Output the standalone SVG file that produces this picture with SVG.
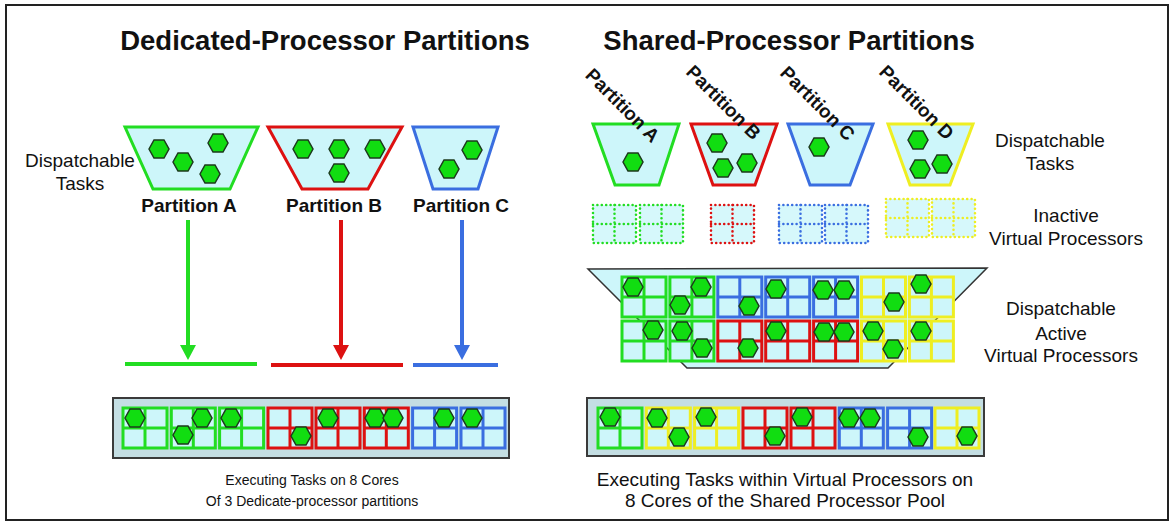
<svg xmlns="http://www.w3.org/2000/svg" xmlns:xlink="http://www.w3.org/1999/xlink" width="1175" height="525" viewBox="0 0 1175 525">
  <style>
    text { font-family: "Liberation Sans", Arial, sans-serif; fill: #111; }
    .title { font-size: 27.5px; font-weight: bold; }
    .lbl { font-size: 19px; font-weight: bold; }
    .txt { font-size: 19px; }
    .capL { font-size: 14px; }
    .capR { font-size: 19px; }
    .bin { fill: #cdf6fa; stroke-width: 3; }
    .g { stroke: #22dd22; }
    .r { stroke: #dd1111; }
    .b { stroke: #3a6ee0; }
    .y { stroke: #eeee22; }
    .core { stroke-width: 3; }
    .dot { stroke-width: 2.6; stroke-dasharray: 0 4.4; stroke-linecap: round; }
    .tray { fill: #c4dee3; stroke: #3a3a3a; stroke-width: 2; }
    .task { fill: #11dd11; stroke: #1c3a1c; stroke-width: 1.5; }
    .flow { stroke-width: 4; fill: none; }
  </style>
  <defs>
    <path id="hex" d="M-10,0 L-5,-9 L5,-9 L10,0 L5,9 L-5,9 Z"/>
    <g id="core">
      <rect width="44" height="40" fill="#cdf6fa"/>
      <path d="M22,0V40M0,20H44" fill="none"/>
    </g>
    <g id="vcore">
      <rect width="43" height="38" fill="#d6f8fb"/>
      <path d="M21.5,0V38M0,19H43" fill="none"/>
    </g>
    <marker id="ahG" viewBox="0 0 16 16" markerWidth="16" markerHeight="16" refX="0" refY="8" orient="auto" markerUnits="userSpaceOnUse">
      <path d="M0,0 L15,8 L0,16 Z" fill="#22dd22"/>
    </marker>
    <marker id="ahR" viewBox="0 0 16 16" markerWidth="16" markerHeight="16" refX="0" refY="8" orient="auto" markerUnits="userSpaceOnUse">
      <path d="M0,0 L15,8 L0,16 Z" fill="#dd1111"/>
    </marker>
    <marker id="ahB" viewBox="0 0 16 16" markerWidth="16" markerHeight="16" refX="0" refY="8" orient="auto" markerUnits="userSpaceOnUse">
      <path d="M0,0 L15,8 L0,16 Z" fill="#3a6ee0"/>
    </marker>
  </defs>

  <!-- frame -->
  <rect x="6" y="5" width="1162" height="515" fill="#fff" stroke="#222" stroke-width="2"/>

  <!-- headings -->
  <text class="title" x="325" y="50" text-anchor="middle">Dedicated-Processor Partitions</text>
  <text class="title" x="789" y="50" text-anchor="middle">Shared-Processor Partitions</text>

  <!-- ===== dedicated side ===== -->
  <g id="ded-tasks-label">
    <text class="txt" x="80" y="167" text-anchor="middle">Dispatchable</text>
    <text class="txt" x="80" y="190" text-anchor="middle">Tasks</text>
  </g>

  <g id="ded-partition-a">
    <polygon class="bin g" points="125,127 258,127 230,189 153,189"/>
    <use href="#hex" class="task" x="159" y="149"/>
    <use href="#hex" class="task" x="183" y="162"/>
    <use href="#hex" class="task" x="218" y="143"/>
    <use href="#hex" class="task" x="210" y="174"/>
    <text class="lbl" x="189" y="212" text-anchor="middle">Partition A</text>
  </g>

  <g id="ded-partition-b">
    <polygon class="bin r" points="268,127 402,127 368,189 302,189"/>
    <use href="#hex" class="task" x="303" y="149"/>
    <use href="#hex" class="task" x="339" y="149"/>
    <use href="#hex" class="task" x="375" y="149"/>
    <use href="#hex" class="task" x="339" y="173"/>
    <text class="lbl" x="334" y="212" text-anchor="middle">Partition B</text>
  </g>

  <g id="ded-partition-c">
    <polygon class="bin b" points="413,127 498,127 478,189 433,189"/>
    <use href="#hex" class="task" x="472" y="150"/>
    <use href="#hex" class="task" x="449" y="169"/>
    <text class="lbl" x="461" y="212" text-anchor="middle">Partition C</text>
  </g>

  <g id="connectors">
    <line class="flow g" x1="188" y1="220" x2="188" y2="345" marker-end="url(#ahG)"/>
    <line class="flow g" x1="125" y1="364" x2="257" y2="364"/>
    <line class="flow r" x1="341" y1="220" x2="341" y2="345" marker-end="url(#ahR)"/>
    <line class="flow r" x1="271" y1="365" x2="403" y2="365"/>
    <line class="flow b" x1="462" y1="220" x2="462" y2="345" marker-end="url(#ahB)"/>
    <line class="flow b" x1="413" y1="365" x2="498" y2="365"/>
  </g>

  <g id="ded-cores">
    <rect class="tray" x="113" y="398" width="396" height="60"/>
    <use href="#core" class="core g" x="123" y="408"/>
    <use href="#core" class="core g" x="171.3" y="408"/>
    <use href="#core" class="core g" x="219.6" y="408"/>
    <use href="#core" class="core r" x="268" y="408"/>
    <use href="#core" class="core r" x="316" y="408"/>
    <use href="#core" class="core r" x="364.3" y="408"/>
    <use href="#core" class="core b" x="412.6" y="408"/>
    <use href="#core" class="core b" x="461" y="408"/>
    <use href="#hex" class="task" x="135" y="418"/>
    <use href="#hex" class="task" x="202" y="418"/>
    <use href="#hex" class="task" x="183" y="435"/>
    <use href="#hex" class="task" x="231" y="418"/>
    <use href="#hex" class="task" x="301" y="436"/>
    <use href="#hex" class="task" x="328" y="418"/>
    <use href="#hex" class="task" x="375" y="418"/>
    <use href="#hex" class="task" x="393" y="418"/>
    <use href="#hex" class="task" x="444" y="418"/>
    <use href="#hex" class="task" x="472" y="418"/>
  </g>

  <g id="ded-caption">
    <text class="capL" x="312" y="485" text-anchor="middle">Executing Tasks on 8 Cores</text>
    <text class="capL" x="312" y="506" text-anchor="middle">Of 3 Dedicate-processor partitions</text>
  </g>

  <!-- ===== shared side ===== -->
  <g id="sh-partition-a">
    <polygon class="bin g" points="593,124 679,124 659,185 615,185"/>
    <use href="#hex" class="task" x="633" y="162"/>
    <text class="lbl" transform="translate(618,110) rotate(45)" text-anchor="middle">Partition A</text>
  </g>

  <g id="sh-partition-b">
    <polygon class="bin r" points="691,124 777,124 755,185 713,185"/>
    <use href="#hex" class="task" x="717" y="143"/>
    <use href="#hex" class="task" x="747" y="163"/>
    <use href="#hex" class="task" x="723" y="168"/>
    <text class="lbl" transform="translate(719,107) rotate(45)" text-anchor="middle">Partition B</text>
  </g>

  <g id="sh-partition-c">
    <polygon class="bin b" points="788,124 873,124 850,185 810,185"/>
    <use href="#hex" class="task" x="819" y="147"/>
    <text class="lbl" transform="translate(813,108) rotate(45)" text-anchor="middle">Partition C</text>
  </g>

  <g id="sh-partition-d">
    <polygon class="bin y" points="888,124 973,124 950,185 910,185"/>
    <use href="#hex" class="task" x="918" y="140"/>
    <use href="#hex" class="task" x="920" y="169"/>
    <use href="#hex" class="task" x="942" y="164"/>
    <text class="lbl" transform="translate(912,107) rotate(45)" text-anchor="middle">Partition D</text>
  </g>

  <g id="sh-tasks-label">
    <text class="txt" x="1050" y="147" text-anchor="middle">Dispatchable</text>
    <text class="txt" x="1050" y="170" text-anchor="middle">Tasks</text>
  </g>

  <g id="inactive-vps">
    <use href="#vcore" class="dot g" x="593" y="205"/>
    <use href="#vcore" class="dot g" x="640" y="205"/>
    <use href="#vcore" class="dot r" x="711" y="205"/>
    <use href="#vcore" class="dot b" x="779" y="205"/>
    <use href="#vcore" class="dot b" x="825" y="205"/>
    <use href="#vcore" class="dot y" x="886" y="199"/>
    <use href="#vcore" class="dot y" x="932" y="199"/>
    <text class="txt" x="1066" y="222" text-anchor="middle">Inactive</text>
    <text class="txt" x="1066" y="245" text-anchor="middle">Virtual Processors</text>
  </g>

  <g id="active-vps">
    <polygon points="588,269 987,268 888,368 687,368" fill="#cdf6fa" stroke="#333" stroke-width="1.5"/>
    <use href="#core" class="core g" x="622" y="277"/>
    <use href="#core" class="core g" x="669.9" y="277"/>
    <use href="#core" class="core b" x="717.8" y="277"/>
    <use href="#core" class="core b" x="765.7" y="277"/>
    <use href="#core" class="core b" x="813.6" y="277"/>
    <use href="#core" class="core y" x="861.5" y="277"/>
    <use href="#core" class="core y" x="909.4" y="277"/>
    <use href="#core" class="core g" x="622" y="321"/>
    <use href="#core" class="core g" x="669.9" y="321"/>
    <use href="#core" class="core r" x="717.8" y="321"/>
    <use href="#core" class="core r" x="765.7" y="321"/>
    <use href="#core" class="core r" x="813.6" y="321"/>
    <use href="#core" class="core y" x="861.5" y="321"/>
    <use href="#core" class="core y" x="909.4" y="321"/>
    <use href="#hex" class="task" x="633" y="287"/>
    <use href="#hex" class="task" x="701" y="287"/>
    <use href="#hex" class="task" x="680" y="305"/>
    <use href="#hex" class="task" x="749" y="306"/>
    <use href="#hex" class="task" x="776" y="289"/>
    <use href="#hex" class="task" x="823" y="290"/>
    <use href="#hex" class="task" x="844" y="290"/>
    <use href="#hex" class="task" x="894" y="302"/>
    <use href="#hex" class="task" x="921" y="284"/>
    <use href="#hex" class="task" x="653" y="330"/>
    <use href="#hex" class="task" x="682" y="331"/>
    <use href="#hex" class="task" x="702" y="348"/>
    <use href="#hex" class="task" x="748" y="348"/>
    <use href="#hex" class="task" x="776" y="331"/>
    <use href="#hex" class="task" x="824" y="332"/>
    <use href="#hex" class="task" x="844" y="332"/>
    <use href="#hex" class="task" x="873" y="331"/>
    <use href="#hex" class="task" x="893" y="349"/>
    <use href="#hex" class="task" x="921" y="331"/>
    <text class="txt" x="1061" y="315" text-anchor="middle">Dispatchable</text>
    <text class="txt" x="1061" y="340" text-anchor="middle">Active</text>
    <text class="txt" x="1061" y="362" text-anchor="middle">Virtual Processors</text>
  </g>

  <g id="shared-cores">
    <rect class="tray" x="587" y="398" width="397" height="58"/>
    <use href="#core" class="core g" x="598" y="408"/>
    <use href="#core" class="core y" x="646.3" y="408"/>
    <use href="#core" class="core y" x="694.6" y="408"/>
    <use href="#core" class="core r" x="743" y="408"/>
    <use href="#core" class="core r" x="791" y="408"/>
    <use href="#core" class="core b" x="839.3" y="408"/>
    <use href="#core" class="core b" x="887.6" y="408"/>
    <use href="#core" class="core y" x="935" y="408"/>
    <use href="#hex" class="task" x="610" y="417"/>
    <use href="#hex" class="task" x="657" y="418"/>
    <use href="#hex" class="task" x="679" y="437"/>
    <use href="#hex" class="task" x="706" y="417"/>
    <use href="#hex" class="task" x="775" y="436"/>
    <use href="#hex" class="task" x="802" y="417"/>
    <use href="#hex" class="task" x="849" y="418"/>
    <use href="#hex" class="task" x="870" y="418"/>
    <use href="#hex" class="task" x="918" y="437"/>
    <use href="#hex" class="task" x="967" y="436"/>
  </g>

  <g id="shared-caption">
    <text class="capR" x="785" y="486" text-anchor="middle">Executing Tasks within Virtual Processors on</text>
    <text class="capR" x="785" y="507" text-anchor="middle">8 Cores of the Shared Processor Pool</text>
  </g>
</svg>
